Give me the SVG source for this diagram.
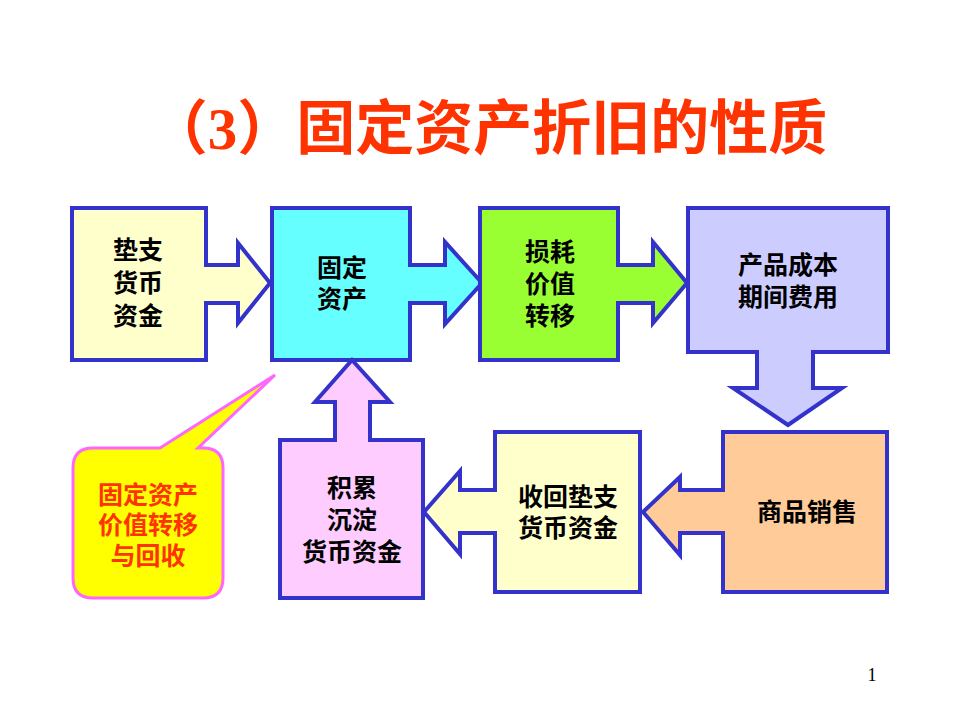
<svg xmlns="http://www.w3.org/2000/svg" width="960" height="720" viewBox="0 0 960 720">
<style>
.box{stroke:#3333CC;stroke-width:4;stroke-linejoin:miter}
.t{font-family:"Noto Sans CJK SC","Liberation Sans",sans-serif;font-size:25px;font-weight:bold;fill:#000;text-anchor:middle}
.c{fill:#FF3300}
.title{font-family:"Liberation Serif","Noto Sans CJK SC",serif;font-size:59px;font-weight:bold;fill:#FF3300;text-anchor:middle}
</style>
<rect width="960" height="720" fill="#fff"/>
<text class="title" x="488" y="149">（3）固定资产折旧的性质</text>
<g id="connectors"></g>
<g id="n1">
<path class="box" fill="#FFFFCC" d="M72,208 H206 V265 H238 V243 L270,283 L238,323 V303 H206 V360 H72 Z"/>
<text class="t" x="138" y="259">垫支<tspan x="138" dy="33">货币</tspan><tspan x="138" dy="33">资金</tspan></text>
</g>
<g id="n2">
<path class="box" fill="#66FFFF" d="M272,208 H410 V265 H445 V242 L482,283 L445,324 V303 H410 V360 H272 Z"/>
<text class="t" x="342" y="277">固定<tspan x="342" dy="31">资产</tspan></text>
</g>
<g id="n3">
<path class="box" fill="#99FF33" d="M480,208 H618 V265 H653 V242 L687,283 L653,323 V303 H618 V360 H480 Z"/>
<text class="t" x="550" y="261">损耗<tspan x="550" dy="32">价值</tspan><tspan x="550" dy="32">转移</tspan></text>
</g>
<g id="n4">
<path class="box" fill="#CCCCFF" d="M688,208 H888 V352 H813 V388 H842 L788,425 L733,388 H757 V352 H688 Z"/>
<text class="t" x="788" y="274">产品成本<tspan x="788" dy="32">期间费用</tspan></text>
</g>
<g id="n5">
<path class="box" fill="#FFCC99" d="M723,432 H887 V592 H723 V533 H680 V555 L643,512 L680,477 V490 H723 Z"/>
<text class="t" x="807" y="521">商品销售</text>
</g>
<g id="n6">
<path class="box" fill="#FFFFCC" d="M495,432 H640 V592 H495 V533 H460 V554 L424,512 L460,471 V490 H495 Z"/>
<text class="t" x="568" y="506">收回垫支<tspan x="568" dy="31">货币资金</tspan></text>
</g>
<g id="n7">
<path class="box" fill="#FFCCFF" d="M280,440 H335 V402 H315 L352,360 L390,402 H370 V440 H423 V598 H280 Z"/>
<text class="t" x="352" y="497">积累<tspan x="352" dy="32">沉淀</tspan><tspan x="352" dy="32">货币资金</tspan></text>
</g>
<g id="callout">
<path fill="#FFFF00" stroke="#FF66FF" stroke-width="3" d="M93,448 H160 L275,375 L198,448 H203 Q223,448 223,468 V578 Q223,598 203,598 H93 Q73,598 73,578 V468 Q73,448 93,448 Z"/>
<text class="t c" x="148" y="504">固定资产<tspan x="148" dy="30">价值转移</tspan><tspan x="148" dy="31">与回收</tspan></text>
</g>
<text x="872" y="681" font-family="Liberation Serif,serif" font-size="18" fill="#000" text-anchor="middle">1</text>
</svg>
